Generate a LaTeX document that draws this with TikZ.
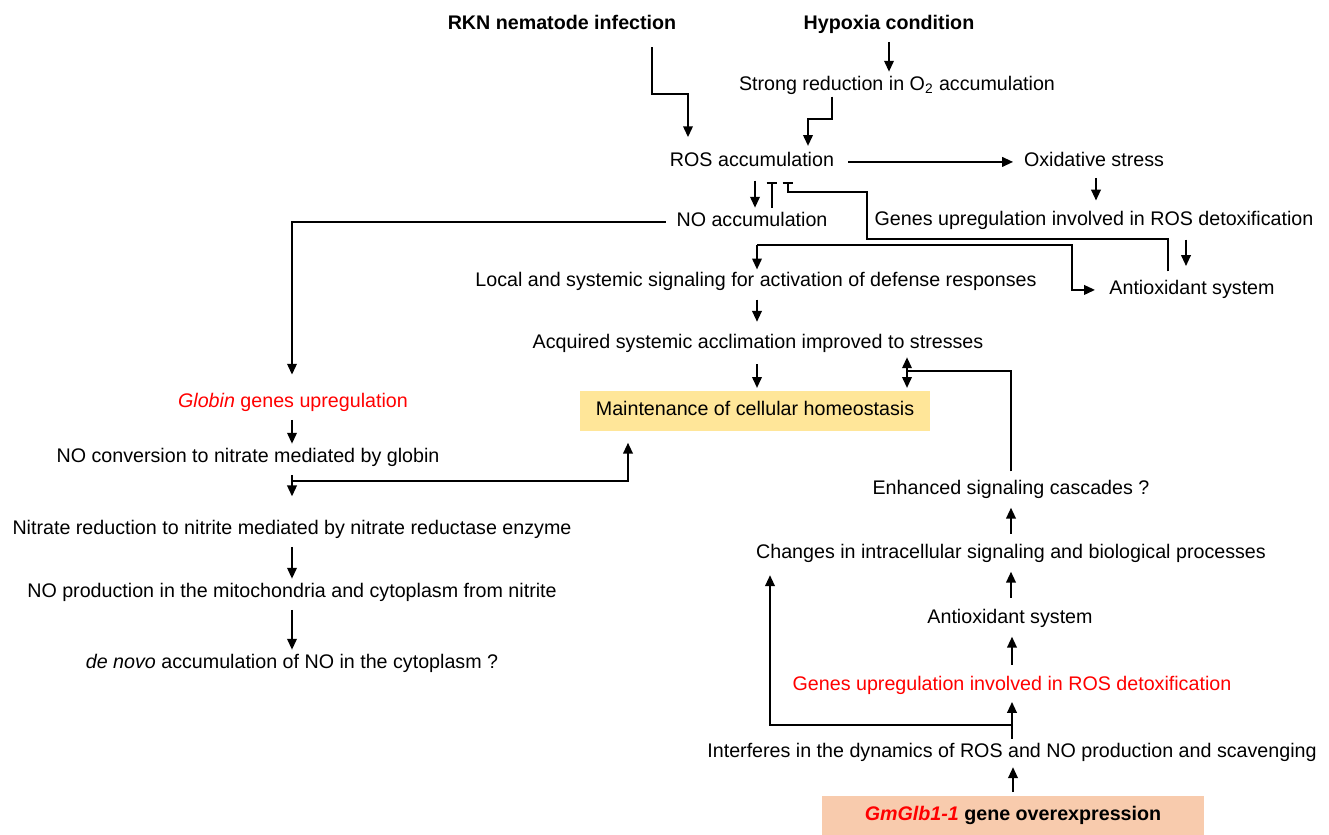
\documentclass[tikz,border=0pt]{standalone}
\usepackage{fontspec}
\setmainfont{Liberation Sans}
\usetikzlibrary{arrows.meta,positioning}

\definecolor{homeoyellow}{HTML}{FFE699}
\definecolor{overpeach}{HTML}{F8CBAD}
\definecolor{markred}{HTML}{FF0000}

\begin{document}
\begin{tikzpicture}
  [
    x = 0.02cm, y = -0.02cm,
    every node/.style = {font=\fontsize{11.2}{13.4}\selectfont, inner sep=1pt, text height=7.6pt, text depth=2.2pt, yshift=-1.1pt},
    title/.style = {font=\fontsize{11.2}{13.4}\selectfont\bfseries},
    red text/.style = {text=markred},
    homeo box/.style = {fill=homeoyellow, minimum width=7.02cm, minimum height=0.8cm},
    over box/.style = {fill=overpeach, minimum width=7.66cm, minimum height=0.8cm, font=\fontsize{11.2}{13.4}\selectfont\bfseries},
    flow/.style = {line width=1.15pt},
    arr/.style = {flow, -{Triangle[length=6.2pt,width=5.4pt]}},
    arrs/.style = {flow, {Triangle[length=6.2pt,width=5.4pt]}-{Triangle[length=6.2pt,width=5.4pt]}},
    inh/.style = {flow, -{Bar[width=6pt]}},
  ]

  \path[use as bounding box, fill=white] (0,0) rectangle (1329,835);

  % top: causes
  \node[title] (rkn) at (562,23) {RKN nematode infection};
  \node[title] (hyp) at (889,23) {Hypoxia condition};
  \node (o2)  at (897,84)  {Strong reduction in O\textsubscript{2} accumulation};
  \node (ros) at (752,160) {ROS accumulation};
  \node (oxs) at (1094,160) {Oxidative stress};
  \node (gup) at (1094,219) {Genes upregulation involved in ROS detoxification};
  \node (no)  at (752,220) {NO accumulation};
  \node (anti) at (1192,288) {Antioxidant system};
  \node (local) at (756,280) {Local and systemic signaling for activation of defense responses};
  \node (acq) at (758,342) {Acquired systemic acclimation improved to stresses};
  \node[homeo box] (homeo) at (755,409) {Maintenance of cellular homeostasis};

  % left: globin branch
  \node[red text] (glob) at (293,401) {\textit{Globin} genes upregulation};
  \node (conv)   at (248,456) {NO conversion to nitrate mediated by globin};
  \node (nred)   at (292,528) {Nitrate reduction to nitrite mediated by nitrate reductase enzyme};
  \node (noprod) at (292,591) {NO production in the mitochondria and cytoplasm from nitrite};
  \node (denovo) at (292,662) {\textit{de novo} accumulation of NO in the cytoplasm ?};

  % right: overexpression branch
  \node (enh)  at (1011,488) {Enhanced signaling cascades ?};
  \node (chg)  at (1011,552) {Changes in intracellular signaling and biological processes};
  \node (anti2) at (1010,617) {Antioxidant system};
  \node[red text] (gup2) at (1012,684) {Genes upregulation involved in ROS detoxification};
  \node (intf) at (1012,751) {Interferes in the dynamics of ROS and NO production and scavenging};
  \node[over box] (gm) at (1013,814) {\textcolor{markred}{\textit{GmGlb1-1}} gene overexpression};

  % bends and forks
  \coordinate (rknbend) at (688,92);
  \coordinate (o2bend)  at (808,117);
  \coordinate (inhA) at (867,237);
  \coordinate (inhB) at (788,190);
  \coordinate (nofork) at (757,243);
  \coordinate (antibend) at (1072,288);
  \coordinate (convfork) at (292,479);
  \coordinate (enhjoin) at (907,369);
  \coordinate (intfork) at (1012,723);

  \draw[arr,shorten <=3.5pt,shorten >=2pt] (hyp.south) -- (hyp.south |- o2.north);
  \draw[arr,shorten <=6.5pt,shorten >=8pt] (rkn.south -| 652,0) |- (rknbend) -- (rknbend |- ros.north);
  \draw[arr,shorten >=3pt] (o2.south -| 832,0) |- (o2bend) -- (o2bend |- ros.north);
  \draw[arr,shorten <=7pt,shorten >=5pt] (ros.east) -- (oxs.west);
  \draw[arr,shorten <=3pt,shorten >=5.5pt] (oxs.south -| 1096,0) -- (gup.north -| 1096,0);
  \draw[arr,shorten <=4.5pt,shorten >=7.5pt] (gup.south -| 1186,0) -- (anti.north -| 1186,0);

  % ROS / NO interplay
  \draw[arr,shorten <=4.5pt,shorten >=2pt] (ros.south -| 755,0) -- (no.north -| 755,0);
  \draw[inh,shorten <=2pt,shorten >=5.5pt] (no.north -| 772,0) -- (ros.south -| 772,0);
  \draw[inh,shorten <=4.5pt,shorten >=5.5pt] (anti.north -| 1168,0) |- (inhA) |- (inhB) -- (inhB |- ros.south);
  \draw[arr,shorten <=5pt,shorten >=10pt] (no.west) -| (glob.north -| 292,0);
  \draw[arr,shorten >=1pt] (nofork) -- (nofork |- local.north);
  \draw[arr,shorten >=7pt] (nofork) -| (antibend) -- (anti.west);
  \draw[arr,shorten <=4pt,shorten >=6.5pt] (local.south -| 757,0) -- (acq.north -| 757,0);
  \draw[arr,shorten <=5.5pt,shorten >=1.5pt] (acq.south -| 757,0) -- (homeo.north -| 757,0);
  \draw[arrs,shorten <=1.5pt,shorten >=1.5pt] (acq.south -| 907,0) -- (homeo.north -| 907,0);

  % globin branch
  \draw[arr,shorten <=3.5pt,shorten >=2pt] (glob.south -| 292,0) -- (conv.north -| 292,0);
  \draw[flow,shorten <=3.5pt] (conv.south -| 292,0) -- (convfork);
  \draw[arr,shorten >=13pt] (convfork) -- (convfork |- nred.north);
  \draw[arr,shorten >=6.5pt] (convfork) -| (homeo.south -| 628,0);
  \draw[arr,shorten <=3.5pt,shorten >=2pt] (nred.south) -- (noprod.north);
  \draw[arr,shorten <=3.5pt,shorten >=2pt] (noprod.south) -- (denovo.north);

  % overexpression branch
  \draw[arr,shorten <=2pt,shorten >=2pt] (gm.north) -- (gm.north |- intf.south);
  \draw[arr,shorten <=2pt,shorten >=3pt] (intf.north) -- (intf.north |- gup2.south);
  \draw[arr,shorten >=6pt] (intfork) -| (chg.south -| 770,0);
  \draw[arr,shorten <=6pt,shorten >=4pt] (gup2.north) -- (gup2.north |- anti2.south);
  \draw[arr,shorten <=6pt,shorten >=4pt] (anti2.north -| chg.south) -- (chg.south);
  \draw[arr,shorten <=5.5pt,shorten >=4pt] (chg.north) -- (chg.north |- enh.south);
  \draw[flow,shorten <=4.5pt] (enh.north) |- (enhjoin);

\end{tikzpicture}
\end{document}
